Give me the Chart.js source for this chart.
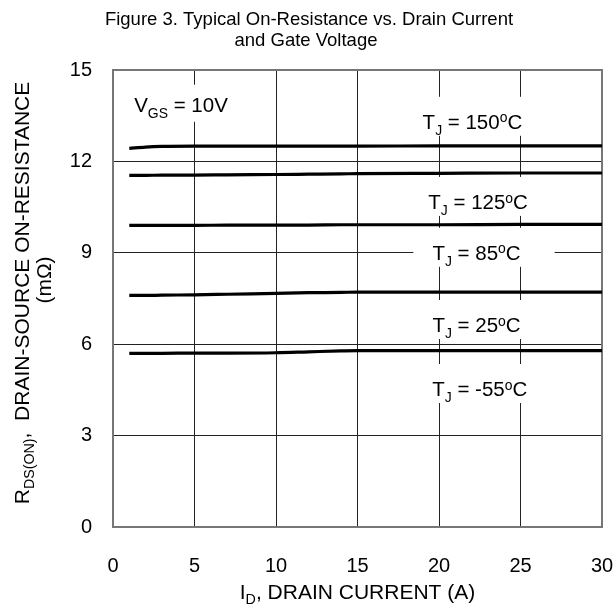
<!DOCTYPE html>
<html>
<head>
<meta charset="utf-8">
<script src="https://cdn.jsdelivr.net/npm/chart.js@4.4.1/dist/chart.umd.min.js"></script>
<style>
  html, body { margin: 0; padding: 0; background: #fff; }
  #wrap { width: 614px; height: 607px; }
</style>
</head>
<body>
<div id="wrap"><canvas id="c" width="614" height="607"></canvas></div>
<script>
// ---- data ----
const currentA = [1, 2, 3, 5, 7, 10, 12, 14, 15, 20, 25, 30];
const rds150 = [12.43, 12.47, 12.49, 12.50, 12.50, 12.50, 12.50, 12.50, 12.50, 12.51, 12.51, 12.51];
const rds125 = [11.54, 11.54, 11.55, 11.55, 11.56, 11.57, 11.58, 11.59, 11.60, 11.61, 11.62, 11.62];
const rds85  = [9.90, 9.90, 9.90, 9.90, 9.91, 9.91, 9.91, 9.92, 9.92, 9.92, 9.93, 9.93];
const rds25  = [7.60, 7.60, 7.61, 7.62, 7.64, 7.67, 7.69, 7.70, 7.71, 7.71, 7.71, 7.71];
const rdsM55 = [5.70, 5.70, 5.70, 5.71, 5.71, 5.72, 5.75, 5.78, 5.79, 5.79, 5.79, 5.79];
const tjTemps = ['150', '125', '85', '25', '-55'];
const xTicks = [0, 5, 10, 15, 20, 25, 30];
const yTicks = [0, 3, 6, 9, 12, 15];

// label anchor positions (data coordinates)
const tjLabelX = [22.05, 22.4, 22.3, 22.3, 22.5];
const tjLabelY = [13.3, 10.67, 9.0, 6.63, 4.53];
const vgsLabelPos = { x: 1.3, y: 13.86 };

const FONT = 'Arial, "Liberation Sans", Helvetica, sans-serif';

function toPts(ys) { return currentA.map((x, i) => ({ x: x, y: ys[i] })); }

function richWidth(ctx, parts, F) {
  let w = 0;
  for (const p of parts) {
    const fs = p.s ? F * 0.68 : F;
    ctx.font = fs + 'px ' + FONT;
    w += ctx.measureText(p.t).width;
  }
  return w;
}
// y = cap-center
function drawRich(ctx, parts, x, y, F, align) {
  const w = richWidth(ctx, parts, F);
  let cx = align === 'center' ? x - w / 2 : (align === 'right' ? x - w : x);
  const base = y + F * 0.36;
  ctx.textBaseline = 'alphabetic';
  ctx.textAlign = 'left';
  ctx.fillStyle = '#000';
  for (const p of parts) {
    const fs = p.s ? F * 0.68 : F;
    ctx.font = fs + 'px ' + FONT;
    let dy = 0;
    if (p.s === 'sub') dy = F * 0.28;
    if (p.s === 'sup') dy = -F * 0.33;
    ctx.fillText(p.t, cx, base + dy);
    cx += ctx.measureText(p.t).width;
  }
}

const annotPlugin = {
  id: 'annot',
  beforeDatasetsDraw(chart) {
    const ctx = chart.ctx, xs = chart.scales.x, ys = chart.scales.y, a = chart.chartArea;
    ctx.save();
    const F = 20.5;
    tjTemps.forEach((t, i) => {
      const parts = [{ t: 'T' }, { t: 'J', s: 'sub' }, { t: ' = ' + t }, { t: 'o', s: 'sup' }, { t: 'C' }];
      const px = xs.getPixelForValue(tjLabelX[i]);
      const py = ys.getPixelForValue(tjLabelY[i]);
      const w = richWidth(ctx, parts, F);
      ctx.fillStyle = '#fff';
      ctx.fillRect(px - w / 2 - 19, py - 25, w + 53, 39);
      drawRich(ctx, parts, px, py, F, 'center');
    });
    {
      const parts = [{ t: 'V' }, { t: 'GS', s: 'sub' }, { t: ' = 10V' }];
      const px = xs.getPixelForValue(vgsLabelPos.x);
      const py = ys.getPixelForValue(vgsLabelPos.y);
      const w = richWidth(ctx, parts, F);
      ctx.fillStyle = '#fff';
      ctx.fillRect(px - 4, py - 20, w + 10, 37);
      drawRich(ctx, parts, px, py, F, 'left');
    }
    ctx.strokeStyle = '#777';
    ctx.lineWidth = 2;
    ctx.strokeRect(a.left, a.top, a.right - a.left, a.bottom - a.top);
    ctx.restore();
  },
  afterDraw(chart) {
    const ctx = chart.ctx, a = chart.chartArea;
    ctx.save();
    ctx.fillStyle = '#000';
    ctx.font = '18.5px ' + FONT;
    ctx.textAlign = 'center';
    ctx.textBaseline = 'middle';
    ctx.fillText('Figure 3. Typical On-Resistance vs. Drain Current', 309, 20);
    ctx.fillText('and Gate Voltage', 306, 41);
    drawRich(ctx, [{ t: 'I' }, { t: 'D', s: 'sub' }, { t: ', DRAIN CURRENT (A)' }], (a.left + a.right) / 2, 591, 21, 'center');
    ctx.save();
    ctx.translate(21, 293);
    ctx.rotate(-Math.PI / 2);
    drawRich(ctx, [{ t: 'R' }, { t: 'DS(ON)', s: 'sub' }, { t: ',  DRAIN-SOURCE ON-RESISTANCE' }], 0, 0, 21, 'center');
    ctx.restore();
    ctx.save();
    ctx.translate(43, 280);
    ctx.rotate(-Math.PI / 2);
    drawRich(ctx, [{ t: '(mΩ)' }], 0, 0, 21, 'center');
    ctx.restore();
    ctx.restore();
  }
};

const lineStyle = { borderColor: '#000', borderWidth: 3.2, pointRadius: 0, showLine: true, fill: false, cubicInterpolationMode: 'monotone' };

new Chart(document.getElementById('c'), {
  type: 'scatter',
  data: {
    datasets: [
      Object.assign({ label: 'TJ=150', data: toPts(rds150) }, lineStyle),
      Object.assign({ label: 'TJ=125', data: toPts(rds125) }, lineStyle),
      Object.assign({ label: 'TJ=85', data: toPts(rds85) }, lineStyle),
      Object.assign({ label: 'TJ=25', data: toPts(rds25) }, lineStyle),
      Object.assign({ label: 'TJ=-55', data: toPts(rdsM55) }, lineStyle)
    ]
  },
  options: {
    responsive: false,
    animation: false,
    devicePixelRatio: 1,
    layout: { padding: { left: 0, right: 12, top: 70, bottom: 0 } },
    plugins: { legend: { display: false }, tooltip: { enabled: false }, title: { display: false } },
    scales: {
      x: {
        type: 'linear', min: 0, max: 30,
        afterBuildTicks(s) { s.ticks = xTicks.map(v => ({ value: v })); },
        afterFit(s) { s.height = 80; s.paddingLeft = 0; s.paddingRight = 0; },
        grid: { color: '#222', lineWidth: 1, drawTicks: false },
        border: { display: false },
        ticks: { padding: 27, color: '#000', font: { size: 20, family: FONT }, maxRotation: 0 }
      },
      y: {
        type: 'linear', min: 0, max: 15,
        afterBuildTicks(s) { s.ticks = yTicks.map(v => ({ value: v })); },
        afterFit(s) { s.width = 113; s.paddingTop = 0; s.paddingBottom = 0; },
        grid: { color: '#222', lineWidth: 1, drawTicks: false },
        border: { display: false },
        ticks: { padding: 21, color: '#000', font: { size: 20, family: FONT } }
      }
    }
  },
  plugins: [annotPlugin]
});
</script>
</body>
</html>
